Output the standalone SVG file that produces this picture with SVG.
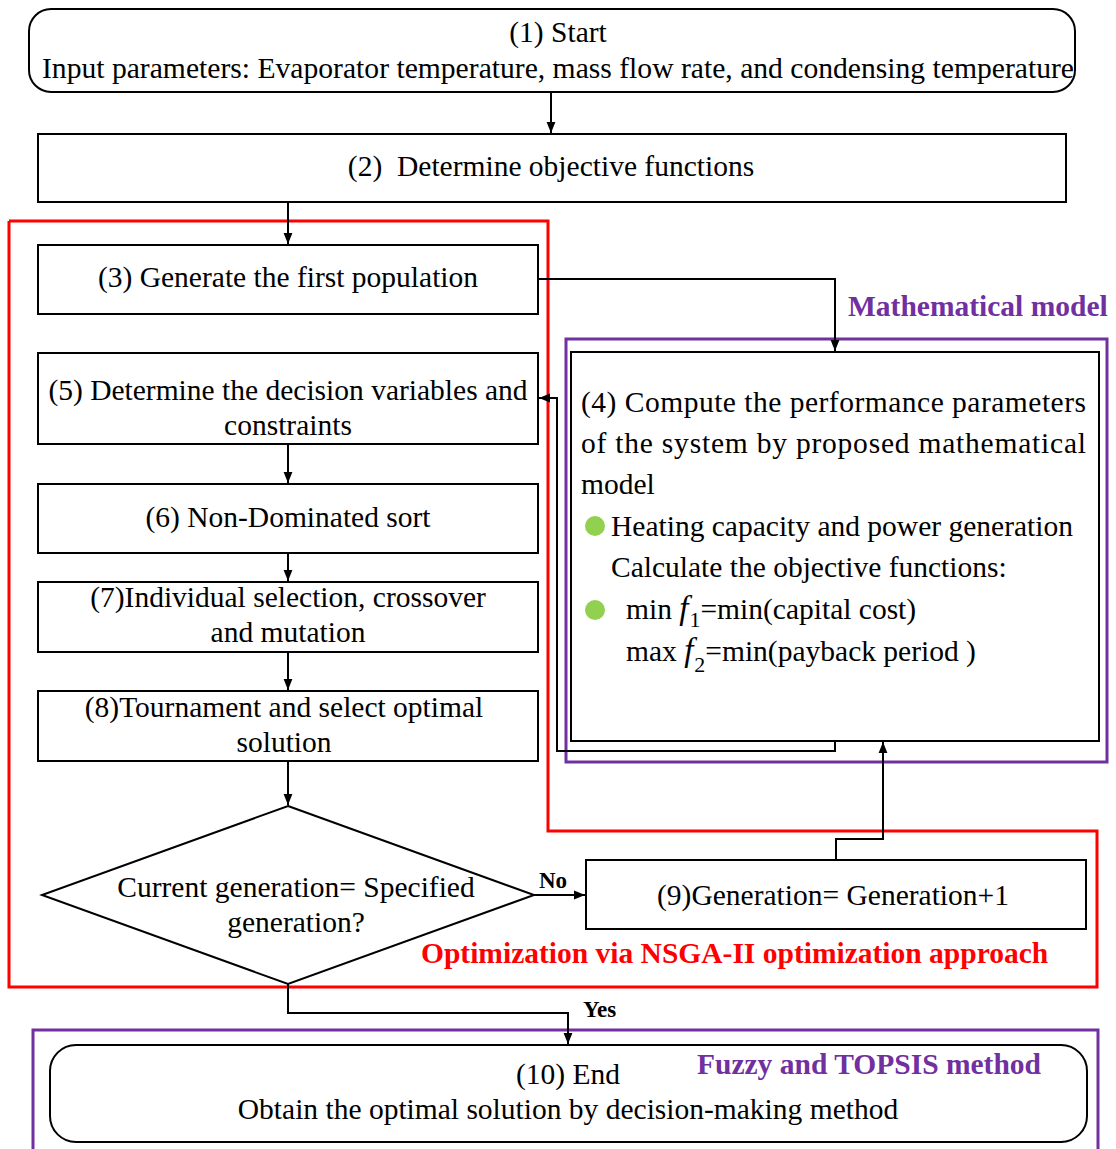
<svg xmlns="http://www.w3.org/2000/svg" width="1116" height="1149" viewBox="0 0 1116 1149">
<defs>
<marker id="arr" markerWidth="11" markerHeight="11" refX="10" refY="5" orient="auto" markerUnits="userSpaceOnUse" viewBox="0 0 10 10">
<path d="M0,1 L10,5 L0,9 z" fill="#000"/>
</marker>
<style>
.box{fill:#fff;stroke:#000;stroke-width:2}
.t{font-family:"Liberation Serif","Times New Roman",serif;font-size:29.5px;fill:#000}
.c{text-anchor:middle}
.lbl{font-family:"Liberation Serif","Times New Roman",serif;font-weight:bold;font-size:23px;fill:#000}
.grp{fill:none;stroke-width:3}
.red{stroke:#FF0000}
.pur{stroke:#7030A0}
.gt{font-family:"Liberation Serif","Times New Roman",serif;font-weight:bold;font-size:29.5px}
.conn{fill:none;stroke:#000;stroke-width:2}
.dot{fill:#92D050}
</style>
</defs>
<rect width="1116" height="1149" fill="#fff"/>

<g id="frames">
<polyline class="grp red" points="9,221 548,221 548,831 1097,831 1097,987 9,987 9,221"/>
<rect class="grp pur" x="566" y="339" width="541" height="423"/>
<rect class="grp pur" x="33" y="1030" width="1065" height="140"/>
<text class="gt" x="848" y="316" fill="#7030A0">Mathematical model</text>
<text class="gt" x="421" y="963" fill="#FF0000">Optimization via NSGA-II optimization approach</text>
</g>

<g id="n1">
<rect class="box" x="29" y="9" width="1046" height="83" rx="22"/>
<text class="t c" x="558" y="42">(1) Start</text>
<text class="t c" x="558" y="78" textLength="1032" lengthAdjust="spacingAndGlyphs">Input parameters: Evaporator temperature, mass flow rate, and condensing temperature</text>
</g>

<g id="n2">
<rect class="box" x="38" y="134" width="1028" height="68"/>
<text class="t c" x="551" y="176" xml:space="preserve">(2)  Determine objective functions</text>
</g>

<g id="n3">
<rect class="box" x="38" y="245" width="500" height="69"/>
<text class="t c" x="288" y="287">(3) Generate the first population</text>
</g>

<g id="n4">
<rect class="box" x="571" y="352" width="528" height="389"/>
<text class="t" x="581" y="412" textLength="505" lengthAdjust="spacing">(4) Compute the performance parameters</text>
<text class="t" x="581" y="453" textLength="505" lengthAdjust="spacing">of the system by proposed mathematical</text>
<text class="t" x="581" y="494">model</text>
<circle class="dot" cx="595" cy="526" r="10"/>
<text class="t" x="611" y="536">Heating capacity and power generation</text>
<text class="t" x="611" y="577">Calculate the objective functions:</text>
<circle class="dot" cx="595" cy="610" r="10"/>
<text class="t" x="626" y="619">min <tspan font-style="italic" font-size="33">f</tspan><tspan font-size="22" dy="8" dx="1">1</tspan><tspan dy="-8">=min(capital cost)</tspan></text>
<text class="t" x="626" y="661">max <tspan font-style="italic" font-size="33">f</tspan><tspan font-size="22" dy="11" dx="1">2</tspan><tspan dy="-11">=min(payback period )</tspan></text>
</g>

<g id="n5">
<rect class="box" x="38" y="353" width="500" height="91"/>
<text class="t c" x="288" y="400">(5) Determine the decision variables and</text>
<text class="t c" x="288" y="435">constraints</text>
</g>

<g id="n6">
<rect class="box" x="38" y="484" width="500" height="69"/>
<text class="t c" x="288" y="527">(6) Non-Dominated sort</text>
</g>

<g id="n7">
<rect class="box" x="38" y="582" width="500" height="70"/>
<text class="t c" x="288" y="607">(7)Individual selection, crossover</text>
<text class="t c" x="288" y="642">and mutation</text>
</g>

<g id="n8">
<rect class="box" x="38" y="691" width="500" height="70"/>
<text class="t c" x="284" y="717">(8)Tournament and select optimal</text>
<text class="t c" x="284" y="752">solution</text>
</g>

<g id="dec">
<polygon class="box" points="288,806 534,895 288,984 42,895"/>
<text class="t c" x="296" y="897">Current generation= Specified</text>
<text class="t c" x="296" y="932">generation?</text>
</g>

<g id="n9">
<rect class="box" x="586" y="860" width="500" height="69"/>
<text class="t c" x="833" y="905">(9)Generation= Generation+1</text>
</g>

<g id="n10">
<rect class="box" x="50" y="1045" width="1037" height="97" rx="26"/>
<text class="t c" x="568" y="1084">(10) End</text>
<text class="t c" x="568" y="1119">Obtain the optimal solution by decision-making method</text>
<text class="gt" x="697" y="1074" fill="#7030A0">Fuzzy and TOPSIS method</text>
</g>

<g id="connectors">
<line class="conn" x1="551" y1="92" x2="551" y2="133" marker-end="url(#arr)"/>
<line class="conn" x1="288" y1="202" x2="288" y2="244" marker-end="url(#arr)"/>
<polyline class="conn" points="538,279 835,279 835,351" marker-end="url(#arr)"/>
<polyline class="conn" points="835,741 835,751 557,751 557,398 539,398" marker-end="url(#arr)"/>
<line class="conn" x1="288" y1="444" x2="288" y2="483" marker-end="url(#arr)"/>
<line class="conn" x1="288" y1="553" x2="288" y2="581" marker-end="url(#arr)"/>
<line class="conn" x1="288" y1="652" x2="288" y2="690" marker-end="url(#arr)"/>
<line class="conn" x1="288" y1="761" x2="288" y2="805" marker-end="url(#arr)"/>
<line class="conn" x1="534" y1="895" x2="585" y2="895" marker-end="url(#arr)"/>
<polyline class="conn" points="836,860 836,839 883,839 883,742" marker-end="url(#arr)"/>
<polyline class="conn" points="288,984 288,1013 568,1013 568,1044" marker-end="url(#arr)"/>
<text class="lbl" x="539" y="888">No</text>
<text class="lbl" x="583" y="1017">Yes</text>
</g>
</svg>
